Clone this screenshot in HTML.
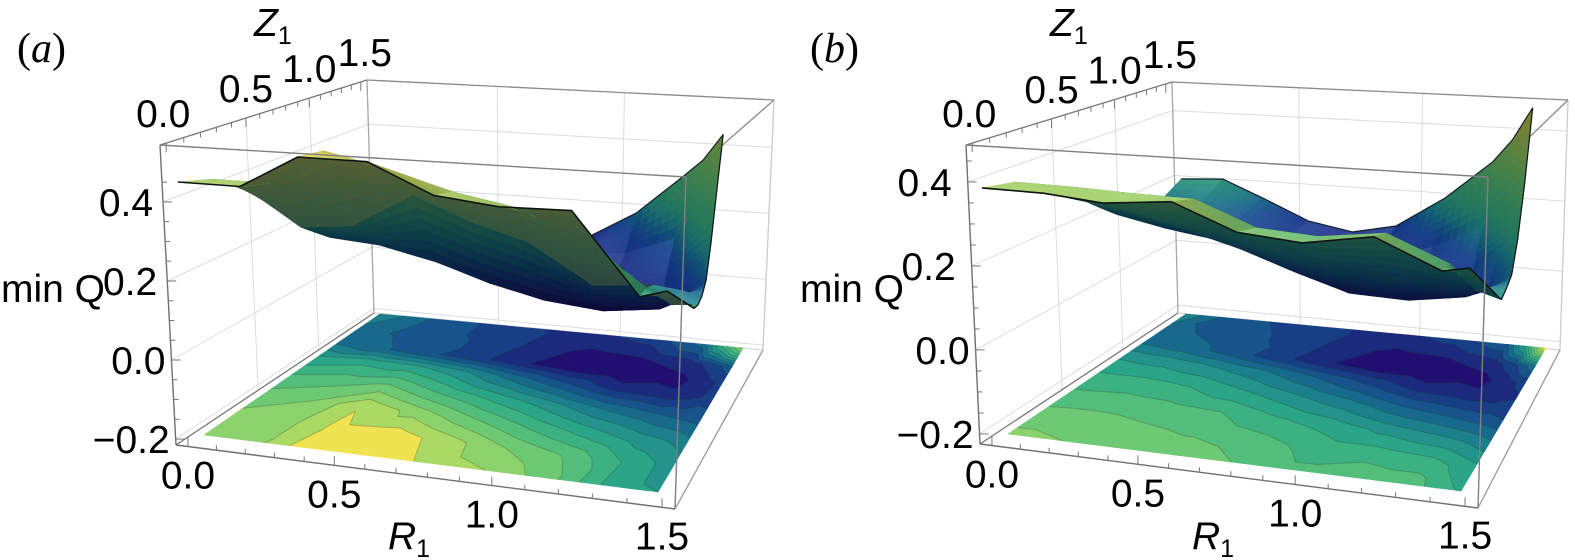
<!DOCTYPE html>
<html>
<head>
<meta charset="utf-8">
<title>min Q surfaces</title>
<style>
html,body{margin:0;padding:0;background:#fff;}
svg{display:block;}
text{font-family:"Liberation Sans",sans-serif;font-size:39px;fill:#000;}
.serif{font-family:"Liberation Serif",serif;font-size:42px;}
.ital{font-style:italic;}
</style>
</head>
<body>
<svg id="chart" width="1575" height="560" viewBox="0 0 1575 560" xmlns="http://www.w3.org/2000/svg"></svg>
<script>
// ---- axis categories ----
const rValues = [0, 0.18, 0.35, 0.55, 0.74, 0.93, 1.14, 1.34, 1.42, 1.5];
const zValues = [0, 0.25, 0.5, 0.75, 1, 1.25, 1.5];
const floorZValues = [0, 0.25, 0.5, 0.75, 0.98, 1.13, 1.3, 1.5];
// ---- tick labels ----
const rTicks = ["0.0", "0.5", "1.0", "1.5"];
const zTicks = ["0.0", "0.5", "1.0", "1.5"];
const qTicks = ["\u22120.2", "0.0", "0.2", "0.4"];
// ---- panel (a): surface heights, rows are Z, columns are R ----
const surfaceA = [
 [.451,.451,.54,.54,.465,.448,.452,.25,.27,.233],
 [.425,.426,.525,.486,.439,.41,.345,.227,.19,.196],
 [.367,.265,.28,.38,.318,.273,.172,.187,.18,.17],
 [.28,.19,.18,.145,.097,.063,.048,.068,.10,.16],
 [.25,.17,.14,.12,.09,.07,.08,.12,.16,.212],
 [.18,.15,.13,.11,.09,.09,.10,.16,.25,.315],
 [.20,.18,.15,.12,.09,.079,.17,.30,.355,.44]
];
// ---- panel (a): floor contour values ----
const floorA = [
 [.44,.445,.52,.52,.48,.455,.40,.30,.29,.28],
 [.43,.44,.50,.51,.47,.42,.38,.31,.29,.25],
 [.40,.42,.487,.44,.39,.345,.30,.26,.25,.23],
 [.35,.37,.39,.34,.30,.26,.21,.18,.17,.16],
 [.28,.30,.29,.25,.19,.14,.085,.075,.09,.12],
 [.21,.18,.15,.115,.072,.045,.04,.06,.085,.115],
 [.19,.17,.15,.13,.085,.06,.068,.09,.12,.16],
 [.25,.18,.15,.12,.10,.10,.12,.19,.33,.44]
];
// ---- panel (b): surface heights ----
const surfaceB = [
 [.435,.433,.419,.436,.37,.356,.386,.314,.327,.266],
 [.417,.415,.41,.407,.343,.333,.356,.289,.228,.209],
 [.347,.33,.30,.277,.226,.194,.186,.187,.188,.19],
 [.289,.259,.227,.182,.129,.083,.078,.102,.127,.175],
 [.20,.17,.15,.12,.09,.07,.09,.13,.17,.221],
 [.155,.17,.15,.11,.08,.08,.12,.20,.26,.332],
 [.216,.226,.173,.108,.084,.115,.218,.345,.419,.525]
];
// ---- panel (b): floor contour values ----
const floorB = [
 [.43,.42,.41,.41,.385,.355,.37,.37,.33,.31],
 [.40,.40,.39,.38,.365,.34,.34,.33,.31,.29],
 [.36,.365,.36,.35,.32,.30,.27,.25,.24,.22],
 [.32,.32,.31,.28,.25,.22,.18,.16,.15,.14],
 [.27,.26,.24,.21,.17,.13,.085,.075,.08,.10],
 [.21,.19,.16,.115,.072,.045,.04,.06,.085,.12],
 [.19,.17,.15,.125,.085,.06,.068,.09,.13,.20],
 [.24,.16,.14,.12,.10,.10,.12,.17,.30,.53]
];

const NS = "http://www.w3.org/2000/svg";
const svg = document.getElementById("chart");
const R_MAX = 1.5, Z_MAX = 1.5, Q_BOT = -0.24, Q_TOP = 0.55;
const COLOR_LO = 0.035, COLOR_HI = 0.54, LEVEL_STEP = 0.035;
const stops = ["#22006b","#1b2a7c","#17498a","#176a8c","#1f8a8c","#2ba588","#45b880","#6ec975","#9bd667","#c9e05e","#efe351"];

function hex(c){return [parseInt(c.slice(1,3),16),parseInt(c.slice(3,5),16),parseInt(c.slice(5,7),16)];}
function palette(t){
  t=Math.max(0,Math.min(1,t))*(stops.length-1);
  const i=Math.min(stops.length-2,Math.floor(t)),f=t-i,a=hex(stops[i]),b=hex(stops[i+1]);
  return a.map((v,k)=>v+(b[k]-v)*f);
}
function css(c){return "rgb("+c.map(v=>Math.round(Math.min(255,v))).join(",")+")";}
function mk(tag,parent,attrs){
  const e=document.createElementNS(NS,tag);
  for(const k in attrs)e.setAttribute(k,attrs[k]);
  parent.appendChild(e);
  return e;
}
function bil(q,u,v){ // q = [p00,p10,p11,p01]
  const fx=q[0][0]+(q[1][0]-q[0][0])*u, fy=q[0][1]+(q[1][1]-q[0][1])*u;
  const bx=q[3][0]+(q[2][0]-q[3][0])*u, by=q[3][1]+(q[2][1]-q[3][1])*u;
  return [fx+(bx-fx)*v, fy+(by-fy)*v];
}
function lerp(a,b,t){return [a[0]+(b[0]-a[0])*t,a[1]+(b[1]-a[1])*t];}
function persp(u,k){return u/(u+k*(1-u));}
function pts(list){return list.map(p=>p[0].toFixed(1)+","+p[1].toFixed(1)).join(" ");}

// axis functions for the surface: grid coordinates and value to pixels
function surfacePoint(P,r,z,q){
  const u=r/R_MAX,v=z/Z_MAX,t=(q-Q_BOT)/(Q_TOP-Q_BOT);
  return lerp(bil(P.sBottom,u,v),bil(P.sTop,u,v),t);
}
function floorPoint(P,r,z){return bil(P.floor,r/R_MAX,z/Z_MAX);}

function sampleGrid(grid,i,j,a,b){
  return (grid[j][i]*(1-a)+grid[j][i+1]*a)*(1-b)+(grid[j+1][i]*(1-a)+grid[j+1][i+1]*a)*b;
}

function drawSurface(g,P,grid){
  const SUB=6;
  for(let j=zValues.length-2;j>=0;j--){
    for(let i=0;i<rValues.length-1;i++){
      const dr=rValues[i+1]-rValues[i], dz=zValues[j+1]-zValues[j];
      for(let sb=SUB-1;sb>=0;sb--){
        for(let sa=0;sa<SUB;sa++){
          const a0=sa/SUB,a1=(sa+1)/SUB,b0=sb/SUB,b1=(sb+1)/SUB;
          const rAt=a=>rValues[i]+dr*a;
          const zAt=b=>zValues[j]+dz*b;
          const corners=[[a0,b0],[a1,b0],[a1,b1],[a0,b1]].map(c=>
            surfacePoint(P,rAt(c[0]),zAt(c[1]),sampleGrid(grid,i,j,c[0],c[1])));
          const du=[corners[1][0]-corners[0][0],corners[1][1]-corners[0][1]];
          const dv=[corners[3][0]-corners[0][0],corners[3][1]-corners[0][1]];
          const cross=du[0]*dv[1]-du[1]*dv[0];
          const am=(a0+a1)/2,bm=(b0+b1)/2;
          const q=sampleGrid(grid,i,j,am,bm);
          let t=(q-COLOR_LO)/(COLOR_HI-COLOR_LO);
          let c;
          if(cross<0){
            const ss=Math.max(0,Math.min(1,(t-0.2)/0.2));
            const t2=t+0.25*(1-t)*ss*ss*(3-2*ss);
            c=palette(t2);
            const slope=Math.hypot((sampleGrid(grid,i,j,a1,bm)-sampleGrid(grid,i,j,a0,bm))/(dr*(a1-a0)),
                                   (sampleGrid(grid,i,j,am,b1)-sampleGrid(grid,i,j,am,b0))/(dz*(b1-b0)));
            const dark=1-(0.25+0.5*t2)*Math.min(slope,0.6);
            const gloss=0.16*(1-Math.min(slope/0.5,1));
            const blueBoost=1+0.15*Math.max(0,Math.min(1,(0.4-t)/0.2));
            c=c.map((v,k)=>{const d=v*dark*(k===2?blueBoost:1);return d+(255-d)*gloss;});
          }else{
            c=palette(t).map((v,k)=>v*(k===2?0.5:0.44));
            if(P.patch&&j<=1){
              const o=[75,90,58];
              c=c.map((v,k)=>v+(o[k]-v)*0.55);
            }
          }
          const col=css(c);
          const cell=mk("polygon",g,{points:pts(corners),fill:col,stroke:col,"stroke-width":0.7});
          
          
        }
      }
    }
    if(j===zValues.length-2){
      const back=mk("polyline",g,{points:pts(rValues.map((r,i)=>surfacePoint(P,r,zValues[j+1],grid[j+1][i]))),fill:"none",stroke:"#14202a","stroke-width":1.2});
      
      
    }
  }
  const front=mk("polyline",g,{points:pts(rValues.map((r,i)=>surfacePoint(P,r,zValues[0],grid[0][i]))),fill:"none",stroke:"#0c1412","stroke-width":1.6,"stroke-linejoin":"round"});
  
  
  const n=rValues.length-1;
  const right=mk("polyline",g,{points:pts(zValues.map((z,j)=>surfacePoint(P,rValues[n],z,grid[j][n]))),fill:"none",stroke:"#0c1412","stroke-width":1.2,"stroke-linejoin":"round"});
  
  
}

// clip a triangle (r,z,q vertices) to lo<=q<=hi
function clipTri(tri,lo,hi){
  function clip(poly,limit,keepAbove){
    const out=[];
    for(let i=0;i<poly.length;i++){
      const a=poly[i],b=poly[(i+1)%poly.length];
      const ina=keepAbove?a[2]>=limit:a[2]<=limit, inb=keepAbove?b[2]>=limit:b[2]<=limit;
      if(ina)out.push(a);
      if(ina!==inb){
        const t=(limit-a[2])/(b[2]-a[2]);
        out.push([a[0]+(b[0]-a[0])*t,a[1]+(b[1]-a[1])*t,limit]);
      }
    }
    return out;
  }
  let p=clip(tri,lo,true);
  if(p.length)p=clip(p,hi,false);
  return p;
}
function floorColor(mid){
  if(mid>=0.49)return palette(1);
  return palette((mid-COLOR_LO)/(0.56-COLOR_LO));
}
function drawFloor(g,P,grid){
  const levels=[];
  for(let l=COLOR_LO;l<COLOR_HI+LEVEL_STEP;l+=LEVEL_STEP)levels.push(l);
  const tris=[];
  for(let j=0;j<floorZValues.length-1;j++)for(let i=0;i<rValues.length-1;i++){
    const A=[rValues[i],floorZValues[j],grid[j][i]],B=[rValues[i+1],floorZValues[j],grid[j][i+1]],
          C=[rValues[i+1],floorZValues[j+1],grid[j+1][i+1]],D=[rValues[i],floorZValues[j+1],grid[j+1][i]];
    tris.push([A,B,C],[A,C,D]);
  }
  for(let k=-1;k<levels.length;k++){
    const lo=k<0?-9:levels[k],hi=k+1<levels.length?levels[k+1]:9;
    const mid=k<0?COLOR_LO:(lo+Math.min(hi,lo+LEVEL_STEP))/2;
    const col=css(floorColor(mid));
    tris.forEach(t=>{
      const poly=clipTri(t,lo,hi);
      if(poly.length<3)return;
      const band=mk("polygon",g,{points:pts(poly.map(p=>floorPoint(P,p[0],p[1]))),fill:col,stroke:col,"stroke-width":0.6});
      
      
    });
  }
  levels.forEach(l=>{
    if(l>0.5)return;
    tris.forEach(t=>{
      const seg=[];
      for(let i=0;i<3;i++){
        const a=t[i],b=t[(i+1)%3];
        if((a[2]<l)!==(b[2]<l)){
          const f=(l-a[2])/(b[2]-a[2]);
          seg.push(floorPoint(P,a[0]+(b[0]-a[0])*f,a[1]+(b[1]-a[1])*f));
        }
      }
      if(seg.length===2){
        const ln=mk("line",g,{x1:seg[0][0],y1:seg[0][1],x2:seg[1][0],y2:seg[1][1],stroke:"rgba(20,40,40,.28)","stroke-width":1});
        
        
      }
    });
  });
}

function drawBack(g,P){
  const B=P.box,grid="#dcdcdc";
  const rFrac=r=>0.03+0.94*persp(r/R_MAX,1.12), zFrac=z=>0.03+0.94*persp(z/Z_MAX,0.72);
  const qFrac=q=>(q-P.qRange[0])/(P.qRange[1]-P.qRange[0]);
  rTicks.forEach(s=>{
    const r=parseFloat(s);
    if(r===0||r===R_MAX)return;
    const a=lerp(B.bbl,B.bbr,rFrac(r)),b=lerp(B.tbl,B.tbr,rFrac(r));
    const l=mk("line",g,{x1:a[0],y1:a[1],x2:b[0],y2:b[1],stroke:grid,"stroke-width":1});
    
    
  });
  zTicks.forEach(s=>{
    const z=parseFloat(s);
    if(z===0||z===Z_MAX)return;
    const a=lerp(B.bfl,B.bbl,zFrac(z)),b=lerp(B.tfl,B.tbl,zFrac(z));
    const l=mk("line",g,{x1:a[0],y1:a[1],x2:b[0],y2:b[1],stroke:grid,"stroke-width":1});
    
    
  });
  qTicks.forEach(s=>{
    const q=parseFloat(s.replace("\u2212","-"));
    const t=qFrac(q);
    const a=lerp(B.bfl,B.tfl,t),b=lerp(B.bbl,B.tbl,t),c=lerp(B.bbr,B.tbr,t);
    const l=mk("polyline",g,{points:pts([a,b,c]),fill:"none",stroke:grid,"stroke-width":1});
    
    
  });
  [[B.bbl,B.tbl,"#a6a6a6"],[B.bbr,B.tbr,"#cccccc"],[B.bfl,B.bbl,"#777"],[B.bbl,B.bbr,"#d6d6d6"],[B.bbr,B.bfr,"#999"],[B.tbl,B.tbr,"#8a8a8a"],[B.tbr,B.tfr,"#8a8a8a"],[B.tfl,B.tbl,"#777"]].forEach(e=>{
    const l=mk("line",g,{x1:e[0][0],y1:e[0][1],x2:e[1][0],y2:e[1][1],stroke:e[2],"stroke-width":1.3});
    
    
  });
}

function tick(g,a,dx,dy,name){
  const l=mk("line",g,{x1:a[0],y1:a[1],x2:a[0]+dx,y2:a[1]+dy,stroke:"#777","stroke-width":1});
  
  
}
function label(g,x,y,s,anchor,name){
  const t=mk("text",g,{x:x,y:y,"text-anchor":anchor});
  t.textContent=s;
  
  
  return t;
}
function drawFront(g,P){
  const B=P.box;
  [[B.tfl,B.tfr,"#808080"],[B.tfr,B.bfr,"#808080"],[B.tfl,B.bfl,"#707070"],[B.bfl,B.bfr,"#707070"]].forEach(e=>{
    const l=mk("line",g,{x1:e[0][0],y1:e[0][1],x2:e[1][0],y2:e[1][1],stroke:e[2],"stroke-width":1.4});
    
    
  });
  const rFrac=r=>0.024+0.95*persp(r/R_MAX,1.12), zFrac=z=>0.03+0.94*persp(z/Z_MAX,0.72);
  const qFrac=q=>(q-P.qRange[0])/(P.qRange[1]-P.qRange[0]);
  for(let n=0;n<=15;n++){
    tick(g,lerp(B.bfl,B.bfr,rFrac(n/10)),0,n%5===0?-9:-5,'r-axis-tick');
    tick(g,lerp(B.tfl,B.tbl,zFrac(n/10)),0,n%5===0?9:5,'z-axis-tick');
  }
  for(let q=-0.2;q<0.46;q+=0.05){
    tick(g,lerp(B.bfl,B.tfl,qFrac(q)),Math.abs(Math.round(q*20))%4===0?9:5,0,'q-axis-tick');
  }
  rTicks.forEach(s=>{
    const a=lerp(B.bfl,B.bfr,rFrac(parseFloat(s)));
    label(g,a[0],a[1]+42,s,"middle",'r-tick-label');
  });
  zTicks.forEach(s=>{
    const v=parseFloat(s);
    const a=lerp(B.tfl,B.tbl,zFrac(v));
    label(g,a[0]+(v===1.5?4:v===0?-3:0),a[1]-16,s,"middle",'z-tick-label');
  });
  qTicks.forEach(s=>{
    const q=parseFloat(s.replace("\u2212","-"));
    const a=lerp(B.bfl,B.tfl,qFrac(q));
    label(g,a[0]-6+(q>0.1?P.qUpShift:0),a[1]+14,s,"end",'q-tick-label');
  });
  const qt=label(g,P.qTitle[0],P.qTitle[1],"min Q","start",'q-axis-title');
  const zt=label(g,P.zTitle[0],P.zTitle[1],"","start",'z-axis-title');
  const z1=mk("tspan",zt,{"font-style":"italic"}); z1.textContent="Z";
  const z2=mk("tspan",zt,{dy:8,"font-size":"25"}); z2.textContent="1";
  const rt=label(g,P.rTitle[0],P.rTitle[1],"","start",'r-axis-title');
  const r1=mk("tspan",rt,{"font-style":"italic"}); r1.textContent="R";
  const r2=mk("tspan",rt,{dy:8,"font-size":"25"}); r2.textContent="1";
  const pl=mk("text",g,{x:P.tag[0],y:P.tag[1],class:"serif"});
  
  
  pl.appendChild(document.createTextNode("("));
  const it=mk("tspan",pl,{class:"ital"}); it.textContent=P.tagText;
  pl.appendChild(document.createTextNode(")"));
}

const panelA={
  tagText:"a",tag:[17,62],qTitle:[1,302],zTitle:[254,36],rTitle:[388,549],patch:true,qRange:[-0.215,0.544],qUpShift:-4,
  box:{tfl:[160,145],tbl:[367,80],tbr:[774,100],tfr:[686,177],bfl:[176,445],bfr:[675,509],bbl:[374,313],bbr:[763,350]},
  floor:[[204,435],[658,492],[743,348],[380,314]],
  sBottom:[[190,440],[690,500],[712,348],[380,314]],
  sTop:[[176,145],[697,180],[725,100],[372,80]]
};
const panelB={
  tagText:"b",tag:[810,62],qTitle:[800,302],zTitle:[1050,36],rTitle:[1192,549],patch:false,qRange:[-0.224,0.488],qUpShift:-10,
  box:{tfl:[966,145],tbl:[1172,82],tbr:[1568,100],tfr:[1488,177],bfl:[980,444],bfr:[1478,508],bbl:[1178,313],bbr:[1560,350]},
  floor:[[1008,434],[1461,491],[1546,348],[1186,314]],
  sBottom:[[994,440],[1492,500],[1522,348],[1186,314]],
  sTop:[[980,145],[1499,180],[1533,100],[1178,80]]
};

function drawPanel(name,P,surface,floor){
  const g=mk("g",svg,{});
  
  
  const back=mk("g",g,{});
  
  
  drawBack(back,P);
  const fl=mk("g",g,{});
  
  
  drawFloor(fl,P,floor);
  const su=mk("g",g,{});
  
  
  drawSurface(su,P,surface);
  const fr=mk("g",g,{});
  
  
  drawFront(fr,P);
}
drawPanel('panel-a',panelA,surfaceA,floorA);
drawPanel('panel-b',panelB,surfaceB,floorB);
</script>
</body>
</html>
